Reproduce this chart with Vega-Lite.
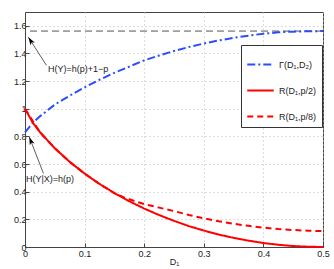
{
  "$schema": "https://vega.github.io/schema/vega-lite/v6.json",
  "width": 298,
  "height": 235,
  "autosize": {"type": "none"},
  "padding": {"left": 25, "top": 12, "right": 11, "bottom": 22},
  "config": {
    "font": "Liberation Sans",
    "view": {"stroke": "#444", "strokeWidth": 1},
    "axis": {
      "labelFont": "Liberation Sans", "labelFontSize": 9, "labelColor": "#222",
      "titleFont": "Liberation Sans", "titleFontSize": 9, "titleFontWeight": "normal", "titleColor": "#222",
      "domainColor": "#444", "tickColor": "#444", "tickSize": -4,
      "gridColor": "#bbb", "gridDash": [1, 3], "gridOpacity": 1,
      "labelOverlap": false, "format": "~g"
    }
  },
  "datasets": {
    "curves": [
      {"D": 0, "v": 0.83, "s": "Γ(D₁,D₂)"},
      {"D": 0.0125, "v": 0.895, "s": "Γ(D₁,D₂)"},
      {"D": 0.025, "v": 0.945, "s": "Γ(D₁,D₂)"},
      {"D": 0.05, "v": 1.03, "s": "Γ(D₁,D₂)"},
      {"D": 0.075, "v": 1.095, "s": "Γ(D₁,D₂)"},
      {"D": 0.1, "v": 1.155, "s": "Γ(D₁,D₂)"},
      {"D": 0.125, "v": 1.21, "s": "Γ(D₁,D₂)"},
      {"D": 0.15, "v": 1.26, "s": "Γ(D₁,D₂)"},
      {"D": 0.175, "v": 1.305, "s": "Γ(D₁,D₂)"},
      {"D": 0.2, "v": 1.35, "s": "Γ(D₁,D₂)"},
      {"D": 0.225, "v": 1.385, "s": "Γ(D₁,D₂)"},
      {"D": 0.25, "v": 1.418, "s": "Γ(D₁,D₂)"},
      {"D": 0.275, "v": 1.447, "s": "Γ(D₁,D₂)"},
      {"D": 0.3, "v": 1.472, "s": "Γ(D₁,D₂)"},
      {"D": 0.325, "v": 1.494, "s": "Γ(D₁,D₂)"},
      {"D": 0.35, "v": 1.513, "s": "Γ(D₁,D₂)"},
      {"D": 0.375, "v": 1.529, "s": "Γ(D₁,D₂)"},
      {"D": 0.4, "v": 1.543, "s": "Γ(D₁,D₂)"},
      {"D": 0.425, "v": 1.553, "s": "Γ(D₁,D₂)"},
      {"D": 0.45, "v": 1.558, "s": "Γ(D₁,D₂)"},
      {"D": 0.475, "v": 1.561, "s": "Γ(D₁,D₂)"},
      {"D": 0.5, "v": 1.562, "s": "Γ(D₁,D₂)"},

      {"D": 0, "v": 1, "s": "R(D₁,p/8)"},
      {"D": 0.025, "v": 0.831, "s": "R(D₁,p/8)"},
      {"D": 0.05, "v": 0.714, "s": "R(D₁,p/8)"},
      {"D": 0.075, "v": 0.616, "s": "R(D₁,p/8)"},
      {"D": 0.1, "v": 0.531, "s": "R(D₁,p/8)"},
      {"D": 0.125, "v": 0.456, "s": "R(D₁,p/8)"},
      {"D": 0.15, "v": 0.39, "s": "R(D₁,p/8)"},
      {"D": 0.165, "v": 0.36, "s": "R(D₁,p/8)"},
      {"D": 0.175, "v": 0.345, "s": "R(D₁,p/8)"},
      {"D": 0.2, "v": 0.31, "s": "R(D₁,p/8)"},
      {"D": 0.225, "v": 0.285, "s": "R(D₁,p/8)"},
      {"D": 0.25, "v": 0.26, "s": "R(D₁,p/8)"},
      {"D": 0.275, "v": 0.232, "s": "R(D₁,p/8)"},
      {"D": 0.3, "v": 0.207, "s": "R(D₁,p/8)"},
      {"D": 0.325, "v": 0.186, "s": "R(D₁,p/8)"},
      {"D": 0.35, "v": 0.168, "s": "R(D₁,p/8)"},
      {"D": 0.375, "v": 0.153, "s": "R(D₁,p/8)"},
      {"D": 0.4, "v": 0.14, "s": "R(D₁,p/8)"},
      {"D": 0.425, "v": 0.13, "s": "R(D₁,p/8)"},
      {"D": 0.45, "v": 0.123, "s": "R(D₁,p/8)"},
      {"D": 0.475, "v": 0.118, "s": "R(D₁,p/8)"},
      {"D": 0.5, "v": 0.115, "s": "R(D₁,p/8)"},

      {"D": 0, "v": 1, "s": "R(D₁,p/2)"},
      {"D": 0.0125, "v": 0.903, "s": "R(D₁,p/2)"},
      {"D": 0.025, "v": 0.831, "s": "R(D₁,p/2)"},
      {"D": 0.05, "v": 0.714, "s": "R(D₁,p/2)"},
      {"D": 0.075, "v": 0.616, "s": "R(D₁,p/2)"},
      {"D": 0.1, "v": 0.531, "s": "R(D₁,p/2)"},
      {"D": 0.125, "v": 0.456, "s": "R(D₁,p/2)"},
      {"D": 0.15, "v": 0.39, "s": "R(D₁,p/2)"},
      {"D": 0.175, "v": 0.331, "s": "R(D₁,p/2)"},
      {"D": 0.2, "v": 0.278, "s": "R(D₁,p/2)"},
      {"D": 0.225, "v": 0.231, "s": "R(D₁,p/2)"},
      {"D": 0.25, "v": 0.189, "s": "R(D₁,p/2)"},
      {"D": 0.275, "v": 0.151, "s": "R(D₁,p/2)"},
      {"D": 0.3, "v": 0.119, "s": "R(D₁,p/2)"},
      {"D": 0.325, "v": 0.09, "s": "R(D₁,p/2)"},
      {"D": 0.35, "v": 0.066, "s": "R(D₁,p/2)"},
      {"D": 0.375, "v": 0.046, "s": "R(D₁,p/2)"},
      {"D": 0.4, "v": 0.029, "s": "R(D₁,p/2)"},
      {"D": 0.425, "v": 0.016, "s": "R(D₁,p/2)"},
      {"D": 0.45, "v": 0.007, "s": "R(D₁,p/2)"},
      {"D": 0.475, "v": 0.002, "s": "R(D₁,p/2)"},
      {"D": 0.5, "v": 0, "s": "R(D₁,p/2)"}
    ],
    "hy": [{"v": 1.562}],
    "arrows": [
      {"x": 0.036, "y": 1.314, "x2": 0.0056, "y2": 1.518, "angle": 327},
      {"x": 0.031, "y": 0.532, "x2": 0.0072, "y2": 0.796, "angle": 339}
    ],
    "labels": [
      {"x": 0.089, "y": 1.29, "t": "H(Y)=h(p)+1−p"},
      {"x": 0.042, "y": 0.49, "t": "H(Y|X)=h(p)"}
    ]
  },
  "encoding": {
    "y": {"type": "quantitative", "title": null,
          "scale": {"domain": [0, 1.7], "nice": false},
          "axis": {"values": [0, 0.2, 0.4, 0.6, 0.8, 1, 1.2, 1.4, 1.6], "labelPadding": 3, "labelFlush": false, "labelOverlap": false, "tickCount": 9}}
  },
  "layer": [
    {
      "data": {"name": "hy"},
      "mark": {"type": "rule", "color": "#555", "strokeWidth": 1, "strokeDash": [7, 4]},
      "encoding": {"y": {"field": "v", "type": "quantitative"}}
    },
    {
      "data": {"name": "curves"},
      "mark": {"type": "line", "strokeWidth": 2},
      "encoding": {
        "x": {"field": "D", "type": "quantitative", "title": "D₁",
              "scale": {"domain": [0, 0.5], "nice": false},
              "axis": {"values": [0, 0.1, 0.2, 0.3, 0.4, 0.5], "labelPadding": 6, "titlePadding": -1, "labelFlush": false}},
        "y": {"field": "v", "type": "quantitative"},
        "color": {"field": "s", "type": "nominal",
                  "scale": {"domain": ["Γ(D₁,D₂)", "R(D₁,p/2)", "R(D₁,p/8)"], "range": ["#2b4cff", "#ff0000", "#ff0000"]},
                  "legend": {"title": null, "orient": "none", "legendX": 216, "legendY": 33,
                             "fillColor": "white", "strokeColor": "#333", "padding": 5,
                             "symbolType": "stroke", "symbolSize": 700, "symbolStrokeWidth": 2,
                             "labelFont": "Liberation Sans", "labelFontSize": 9, "labelColor": "#222",
                             "rowPadding": 6, "labelOffset": 4}},
        "strokeDash": {"field": "s", "type": "nominal",
                       "scale": {"domain": ["Γ(D₁,D₂)", "R(D₁,p/2)", "R(D₁,p/8)"], "range": [[8, 3, 2, 3], [1, 0], [6, 4]]},
                       "legend": null},
        "order": {"field": "D", "type": "quantitative"}
      }
    },
    {
      "data": {"name": "arrows"},
      "mark": {"type": "rule", "color": "#333", "strokeWidth": 0.8},
      "encoding": {
        "x": {"field": "x", "type": "quantitative"},
        "y": {"field": "y", "type": "quantitative"},
        "x2": {"field": "x2"},
        "y2": {"field": "y2"}
      }
    },
    {
      "data": {"name": "arrows"},
      "mark": {"type": "point", "filled": true, "color": "#000", "opacity": 1,
               "shape": "M0,0L-0.32,1L0,0.75L0.32,1Z", "size": 256},
      "encoding": {
        "x": {"field": "x2", "type": "quantitative"},
        "y": {"field": "y2", "type": "quantitative"},
        "angle": {"field": "angle", "type": "quantitative", "scale": null}
      }
    },
    {
      "data": {"name": "labels"},
      "mark": {"type": "text", "font": "Liberation Sans", "fontSize": 9, "color": "#222", "align": "center", "baseline": "middle"},
      "encoding": {
        "x": {"field": "x", "type": "quantitative"},
        "y": {"field": "y", "type": "quantitative"},
        "text": {"field": "t"}
      }
    }
  ]
}
